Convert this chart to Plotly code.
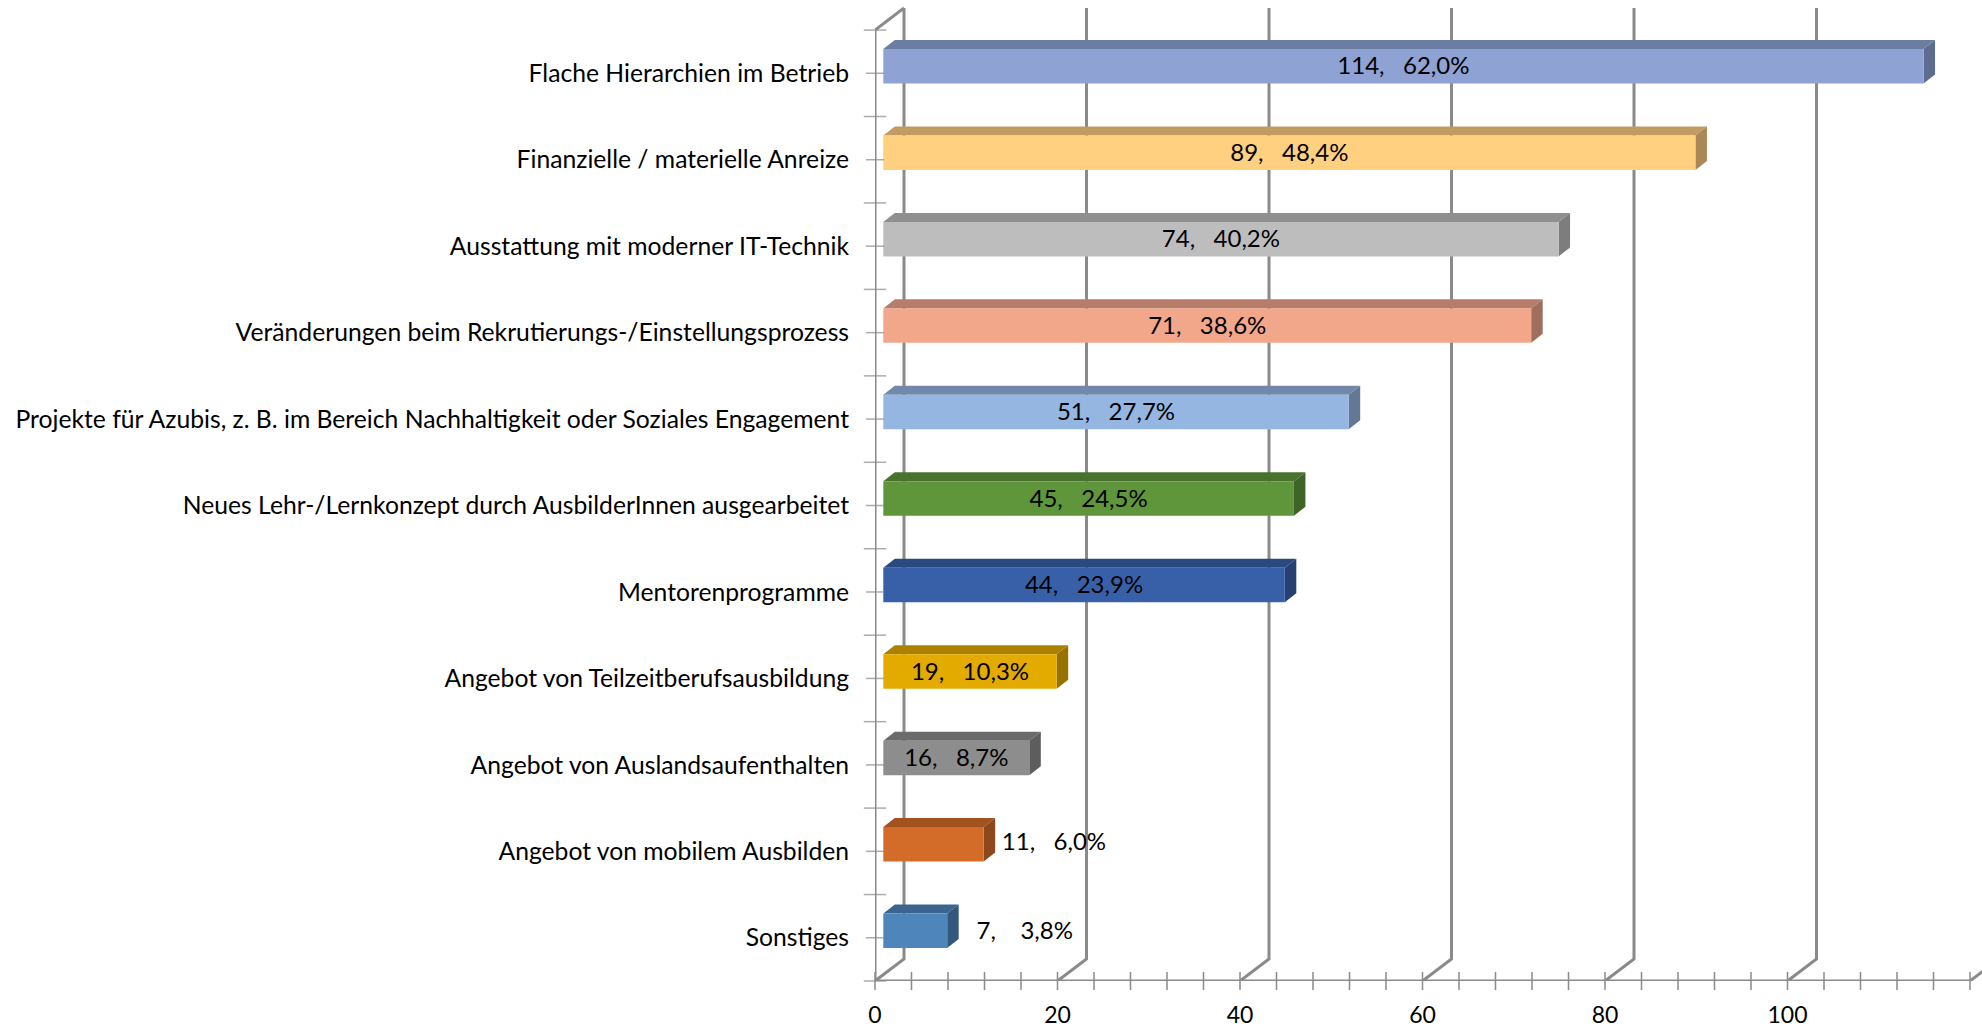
import plotly.graph_objects as go

# bottom to top, same order the y axis counts
categories = [
    "Sonstiges",
    "Angebot von mobilem Ausbilden",
    "Angebot von Auslandsaufenthalten",
    "Angebot von Teilzeitberufsausbildung",
    "Mentorenprogramme",
    "Neues Lehr-/Lernkonzept durch AusbilderInnen ausgearbeitet",
    "Projekte für Azubis, z. B. im Bereich Nachhaltigkeit oder Soziales Engagement",
    "Veränderungen beim Rekrutierungs-/Einstellungsprozess",
    "Ausstattung mit moderner IT-Technik",
    "Finanzielle / materielle Anreize",
    "Flache Hierarchien im Betrieb",
]
values = [7, 11, 16, 19, 44, 45, 51, 71, 74, 89, 114]
percents = ["3,8%", "6,0%", "8,7%", "10,3%", "23,9%", "24,5%", "27,7%", "38,6%", "40,2%", "48,4%", "62,0%"]

front_colors = ["#4E86BC", "#D46C29", "#8D8D8D", "#E3AB00", "#3860A9", "#5F963C", "#95B6E0", "#F2A68A", "#BDBDBD", "#FFD080", "#8EA2D4"]
top_colors = ["#3B658F", "#A1521F", "#6B6B6B", "#AC8100", "#2A4981", "#48722D", "#7089AA", "#B67E69", "#8F8F8F", "#C19C62", "#6C7DA2"]
side_colors = ["#33587D", "#8D481B", "#5D5D5D", "#977100", "#254071", "#3F6428", "#637894", "#9F6E5C", "#7D7D7D", "#A98756", "#5D6C8F"]

x_major = [0, 20, 40, 60, 80, 100, 120]
x_minor = list(range(0, 121, 4))

GRAY = "#8A8A8A"
LABEL_FONT = "Lato"

# pixel layout of the page
WIDTH, HEIGHT = 1982, 1027
LEFT, BOTTOM = 875, 46
PX_X = 9.125   # px per x unit
PX_Y = 86.45   # px per category

# pseudo 3d offsets, in data units
wall_dx, wall_dy = 29 / PX_X, 22 / PX_Y
bar_base = 8.3 / PX_X
bar_shift = 7 / PX_Y
bar_h = 34.5 / PX_Y
depth_dx, depth_dy = 11.5 / PX_X, 9 / PX_Y

y_bottom, y_top = -0.5, 10.5
x_max = (WIDTH - LEFT) / PX_X
y_max = y_bottom + (HEIGHT - BOTTOM) / PX_Y

y_pos = list(range(len(categories)))
shapes = []

# back wall
for g in x_major:
    shapes.append(dict(
        type="path", layer="below", xref="x", yref="y",
        path=f"M {g},{y_bottom} L {g + wall_dx},{y_bottom + wall_dy} L {g + wall_dx},{y_top + wall_dy}",
        line=dict(color=GRAY, width=3),
    ))
shapes.append(dict(
    type="line", layer="below", xref="x", yref="y",
    x0=0, y0=y_top, x1=wall_dx, y1=y_top + wall_dy,
    line=dict(color=GRAY, width=3),
))

# top and side faces of the bars
for i, v in enumerate(values):
    x0, x1 = bar_base, bar_base + v
    y0 = i + bar_shift - bar_h / 2
    y1 = i + bar_shift + bar_h / 2
    shapes.append(dict(
        type="path", layer="below", xref="x", yref="y",
        path=f"M {x0},{y1} L {x0 + depth_dx},{y1 + depth_dy} L {x1 + depth_dx},{y1 + depth_dy} L {x1},{y1} Z",
        fillcolor=top_colors[i], line=dict(width=0),
    ))
    shapes.append(dict(
        type="path", layer="below", xref="x", yref="y",
        path=f"M {x1},{y0} L {x1},{y1} L {x1 + depth_dx},{y1 + depth_dy} L {x1 + depth_dx},{y0 + depth_dy} Z",
        fillcolor=side_colors[i], line=dict(width=0),
    ))

fig = go.Figure()

fig.add_trace(go.Bar(
    x=values,
    y=[p + bar_shift for p in y_pos],
    base=bar_base,
    width=bar_h,
    orientation="h",
    marker=dict(color=front_colors, line=dict(width=0)),
    hoverinfo="skip",
))

# axis lines
fig.add_trace(go.Scatter(
    x=[0, 0, x_major[-1]],
    y=[y_top, y_bottom, y_bottom],
    mode="lines",
    line=dict(color=GRAY, width=3),
    cliponaxis=False,
    hoverinfo="skip",
))

# ticks crossing the axes
fig.add_trace(go.Scatter(
    x=x_minor,
    y=[y_bottom] * len(x_minor),
    mode="markers",
    marker=dict(symbol="line-ns", size=13, line=dict(color=GRAY, width=1.5)),
    cliponaxis=False,
    hoverinfo="skip",
))
y_ticks = [y_bottom + k / 2 for k in range(2 * len(categories) + 1)]
fig.add_trace(go.Scatter(
    x=[0] * len(y_ticks),
    y=y_ticks,
    mode="markers",
    marker=dict(symbol="line-ew", size=[16 if k % 2 == 0 else 13 for k in range(len(y_ticks))],
                line=dict(color=GRAY, width=1.5)),
    cliponaxis=False,
    hoverinfo="skip",
))

# data labels: centred on the bar, the two short bars get theirs beside it
outside_gap = {7: 8.5, 11: 7.7}
label_gaps = {7: 4}
label_x = [bar_base + v + outside_gap[v] if v in outside_gap else bar_base + v / 2 for v in values]
label_y = [p + bar_shift - (0.0 if v == 11 else 0.025) for p, v in zip(y_pos, values)]
label_text = [f"{v},{chr(160) * label_gaps.get(v, 3)}{p}" for v, p in zip(values, percents)]
fig.add_trace(go.Scatter(
    x=label_x,
    y=label_y,
    mode="text",
    text=label_text,
    textposition="middle center",
    textfont=dict(family=LABEL_FONT, size=24, color="#000000"),
    cliponaxis=False,
    hoverinfo="skip",
))

fig.update_layout(
    width=WIDTH,
    height=HEIGHT,
    margin=dict(l=LEFT, r=0, t=0, b=BOTTOM, autoexpand=False),
    paper_bgcolor="white",
    plot_bgcolor="white",
    showlegend=False,
    shapes=shapes,
    xaxis=dict(
        range=[0, x_max],
        tickvals=x_major,
        ticks="outside",
        ticklen=13,
        tickcolor="rgba(0,0,0,0)",
        showgrid=False,
        zeroline=False,
        showline=False,
        tickfont=dict(family=LABEL_FONT, size=23, color="#000000"),
    ),
    yaxis=dict(
        range=[y_bottom, y_max],
        tickvals=y_pos,
        ticktext=categories,
        ticks="outside",
        ticklen=20,
        tickcolor="rgba(0,0,0,0)",
        showgrid=False,
        zeroline=False,
        showline=False,
        tickfont=dict(family=LABEL_FONT, size=24.7, color="#000000"),
    ),
)

fig.write_html("out.html", config=dict(displayModeBar=False), post_script="document.body.style.margin='0';")
